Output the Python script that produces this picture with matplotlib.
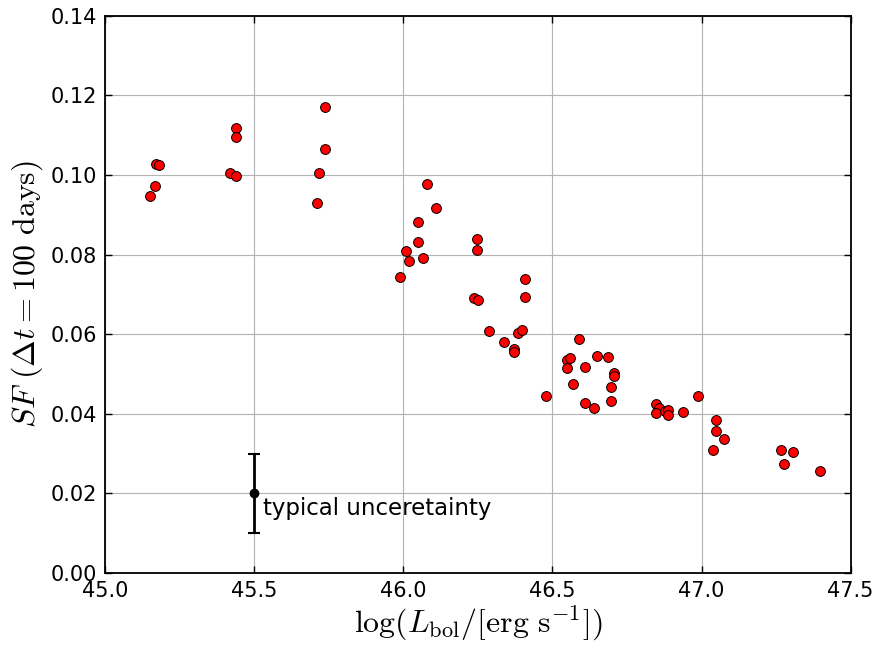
import numpy as np
import matplotlib
matplotlib.use("Agg")
import matplotlib.pyplot as plt

# log L_bol and SF(dt=100 days)
log_lbol = [45.150, 45.168, 45.171, 45.181,
            45.419, 45.439, 45.439, 45.439,
            45.709, 45.718, 45.739, 45.739,
            45.988, 46.008, 46.019, 46.049, 46.049, 46.067, 46.079, 46.109,
            46.237, 46.249, 46.247, 46.247, 46.289, 46.339, 46.370, 46.370,
            46.385, 46.399, 46.407, 46.407, 46.477,
            46.549, 46.560, 46.548, 46.568, 46.589, 46.608, 46.608, 46.638,
            46.648, 46.688, 46.707, 46.707, 46.697, 46.697,
            46.848, 46.857, 46.846, 46.878, 46.888, 46.888, 46.937, 46.988,
            47.047, 47.047, 47.077, 47.038,
            47.267, 47.307, 47.277, 47.397]
sf = [0.0947, 0.0971, 0.1028, 0.1026,
      0.1004, 0.1119, 0.1096, 0.0998,
      0.0929, 0.1004, 0.1171, 0.1066,
      0.0744, 0.0809, 0.0785, 0.0881, 0.0832, 0.0792, 0.0978, 0.0918,
      0.0691, 0.0685, 0.0839, 0.0811, 0.0607, 0.0580, 0.0563, 0.0554,
      0.0604, 0.0611, 0.0738, 0.0693, 0.0444,
      0.0536, 0.0541, 0.0516, 0.0474, 0.0587, 0.0518, 0.0428, 0.0415,
      0.0546, 0.0543, 0.0502, 0.0495, 0.0466, 0.0431,
      0.0424, 0.0414, 0.0402, 0.0407, 0.0410, 0.0398, 0.0405, 0.0445,
      0.0384, 0.0357, 0.0336, 0.0309,
      0.0308, 0.0303, 0.0275, 0.0255]

err_x, err_y, err_size = 45.5, 0.02, 0.01

plt.rcParams['mathtext.fontset'] = 'cm'

fig = plt.figure(figsize=(8.76, 6.47), dpi=100)
ax = fig.add_axes([0.120, 0.1144, 0.851, 0.8613])

ax.grid(True, color='0.7', lw=0.8, ls='-')
ax.set_axisbelow(True)
ax.scatter(log_lbol, sf, s=50, c='red', edgecolors='black', linewidths=0.7, zorder=3)

ax.errorbar([err_x], [err_y], yerr=[err_size], fmt='o', color='black',
            ms=6, elinewidth=2, capsize=4, capthick=1.5, zorder=3)
ax.text(err_x + 0.03, err_y - 0.0038, 'typical unceretainty', fontsize=16.5, va='center')

ax.set_xlim(45.0, 47.5)
ax.set_ylim(0.0, 0.14)
ax.set_xticks(np.arange(45.0, 47.51, 0.5))
ax.set_yticks(np.arange(0.0, 0.141, 0.02))
ax.xaxis.set_major_formatter(matplotlib.ticker.FormatStrFormatter('%.1f'))
ax.yaxis.set_major_formatter(matplotlib.ticker.FormatStrFormatter('%.2f'))
ax.tick_params(direction='in', top=True, right=True, length=5, width=1,
               labelsize=15, pad=6)
for sp in ax.spines.values():
    sp.set_linewidth(1.3)

ax.set_xlabel(r'$\log(L_{\rm bol}/[\rm erg\ s^{-1}])$', fontsize=23, labelpad=2)
ax.set_ylabel(r'$SF\ (\Delta t = 100\ \rm days)$', fontsize=23, labelpad=4)

plt.savefig('out.png', dpi=100)
